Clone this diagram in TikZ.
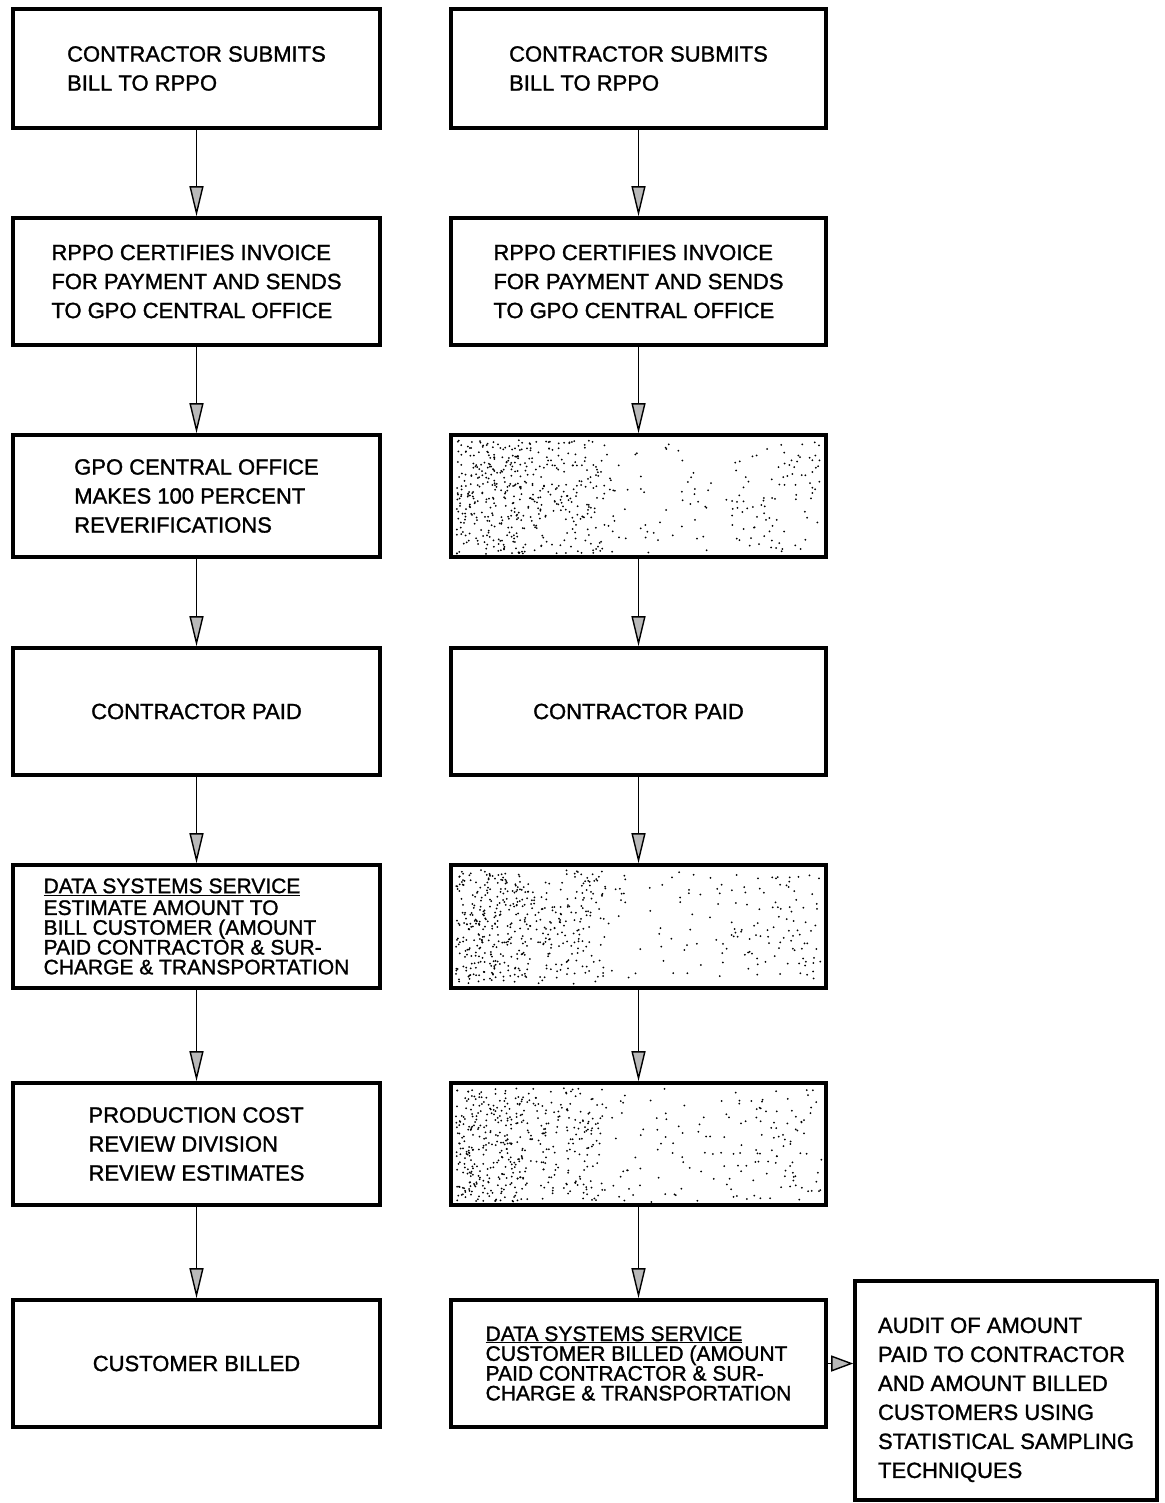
\documentclass[tikz,border=0pt]{standalone}
\usepackage{fontspec}
\setmainfont[FakeBold=1.3]{Liberation Sans}
\usetikzlibrary{arrows.meta}
\newcommand\boxfont{\fontsize{22}{29}\selectfont}
\newcommand\dssfont{\fontsize{21}{19.8}\selectfont}
\begin{document}
\begin{tikzpicture}[x=1pt,y=-1pt,
  flowbox/.style={draw=black, line width=3.6pt, inner sep=0pt, align=left, font=\boxfont},
  leftcol/.style={flowbox, minimum width=367pt},
  rightcol/.style={flowbox, minimum width=375pt},
  conn/.style={line width=1.8pt, -{Triangle[length=30pt,width=14pt,fill=gray!55,line width=1.4pt]}},
  hconn/.style={line width=1.8pt, -{Triangle[length=22pt,width=16pt,fill=gray!55,line width=1.4pt]}},
  stip/.style={fill=black}
]
\useasboundingbox (0,0) rectangle (1164,1503);

% left column
\node[leftcol, minimum height=119pt] (L1) at (196.5,68.5) {CONTRACTOR SUBMITS\\BILL TO RPPO};
\node[leftcol, minimum height=127pt] (L2) at (196.5,281.5) {RPPO CERTIFIES INVOICE\\FOR PAYMENT AND SENDS\\TO GPO CENTRAL OFFICE};
\node[leftcol, minimum height=122pt] (L3) at (196.5,496) {GPO CENTRAL OFFICE\\MAKES 100 PERCENT\\REVERIFICATIONS};
\node[leftcol, minimum height=127pt] (L4) at (196.5,711.5) {CONTRACTOR PAID};
\node[leftcol, minimum height=123pt, font=\dssfont] (L5) at (196.5,926.5) {\underline{DATA SYSTEMS SERVICE}\\[2pt]ESTIMATE AMOUNT TO\\BILL CUSTOMER (AMOUNT\\PAID CONTRACTOR \& SUR-\\CHARGE \& TRANSPORTATION};
\node[leftcol, minimum height=122pt] (L6) at (196.5,1144) {PRODUCTION COST\\REVIEW DIVISION\\REVIEW ESTIMATES};
\node[leftcol, minimum height=127pt] (L7) at (196.5,1363.5) {CUSTOMER BILLED};

% right column
\node[rightcol, minimum height=119pt] (R1) at (638.5,68.5) {CONTRACTOR SUBMITS\\BILL TO RPPO};
\node[rightcol, minimum height=127pt] (R2) at (638.5,281.5) {RPPO CERTIFIES INVOICE\\FOR PAYMENT AND SENDS\\TO GPO CENTRAL OFFICE};
\node[rightcol, minimum height=122pt] (R3) at (638.5,496) {};
\node[rightcol, minimum height=127pt] (R4) at (638.5,711.5) {CONTRACTOR PAID};
\node[rightcol, minimum height=123pt] (R5) at (638.5,926.5) {};
\node[rightcol, minimum height=122pt] (R6) at (638.5,1144) {};
\node[rightcol, minimum height=127pt, font=\dssfont] (R7) at (638.5,1363.5) {\underline{DATA SYSTEMS SERVICE}\\CUSTOMER BILLED (AMOUNT\\PAID CONTRACTOR \& SUR-\\CHARGE \& TRANSPORTATION};
\node[flowbox, minimum width=302pt, minimum height=219pt] (AU) at (1006,1390.5) {\rule{0pt}{34pt}AUDIT OF AMOUNT\\PAID TO CONTRACTOR\\AND AMOUNT BILLED\\CUSTOMERS USING\\STATISTICAL SAMPLING\\TECHNIQUES};

% stippling
\pgfmathsetseed{11}
\foreach \top in {437,867,1085}{
  \foreach \i in {1,...,300}{
    \fill[stip] ({456+rnd*150},{\top+3+rnd*114}) circle (1.0);
  }
  \foreach \i in {1,...,110}{
    \fill[stip] ({456+rnd*70},{\top+3+rnd*114}) circle (1.0);
  }
  \foreach \i in {1,...,160}{
    \fill[stip] ({456+rnd*366},{\top+3+rnd*114}) circle (1.0);
  }
  \foreach \i in {1,...,50}{
    \fill[stip] ({735+rnd*85},{\top+5+rnd*110}) circle (1.0);
  }
}

% connectors
\draw[conn] (L1.south) -- (L2.north);
\draw[conn] (L2.south) -- (L3.north);
\draw[conn] (L3.south) -- (L4.north);
\draw[conn] (L4.south) -- (L5.north);
\draw[conn] (L5.south) -- (L6.north);
\draw[conn] (L6.south) -- (L7.north);
\draw[conn] (R1.south) -- (R2.north);
\draw[conn] (R2.south) -- (R3.north);
\draw[conn] (R3.south) -- (R4.north);
\draw[conn] (R4.south) -- (R5.north);
\draw[conn] (R5.south) -- (R6.north);
\draw[conn] (R6.south) -- (R7.north);
\draw[hconn] (R7.east) -- (R7.east -| AU.west);
\end{tikzpicture}
\end{document}
